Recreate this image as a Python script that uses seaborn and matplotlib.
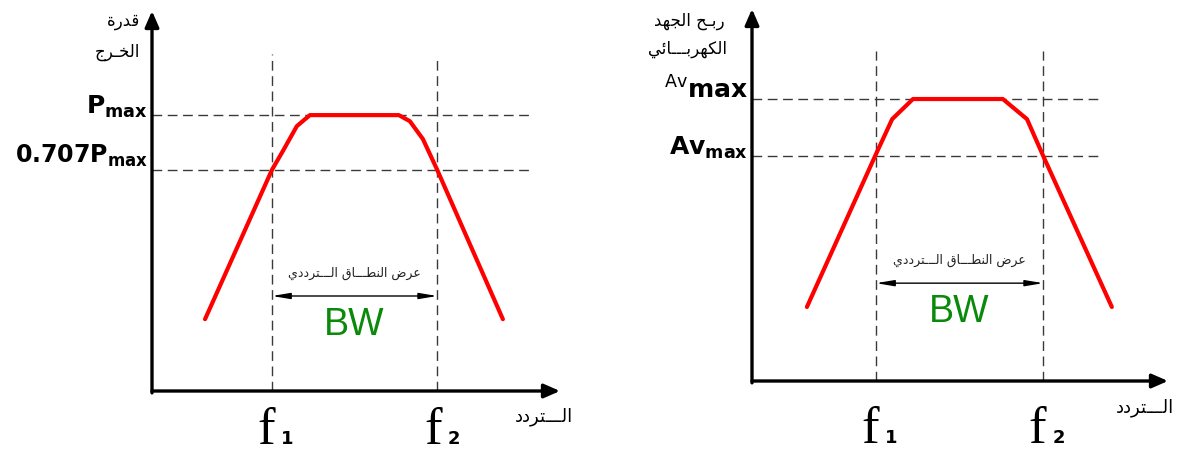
import numpy as np
import pandas as pd
import seaborn as sns
import matplotlib.pyplot as plt

sns.set_theme(style="white")
plt.rcParams['font.family'] = ['DejaVu Sans']
plt.rcParams['mathtext.fontset'] = 'dejavusans'
plt.rcParams['text.color'] = 'black'

# ---- data (diagram units: origin at 0, arrow tips at 10) ----
p_freq = [1.30, 2.94, 3.20, 3.55, 3.87, 6.05, 6.32, 6.64, 6.99, 8.60]
p_power = [1.89, 5.82, 6.30, 6.97, 7.26, 7.26, 7.10, 6.63, 5.82, 1.89]
p_f1, p_f2 = 2.94, 6.99
p_max_level, p_half_level = 7.26, 5.82

a_freq = [1.32, 2.96, 3.37, 3.87, 6.03, 6.61, 7.00, 8.65]
a_gain = [1.99, 6.05, 7.04, 7.58, 7.58, 7.04, 6.05, 1.99]
a_f1, a_f2 = 2.98, 7.00
a_max_level, a_half_level = 7.58, 6.05

x_label = "الـــتردد"
bw_label = "عرض النطـــاق الـــترددي"
p_ylabel = ["قدرة", "الخـرج"]
a_ylabel = ["ربـح الجهد", "الكهربـــائي"]

# ---- tiny arabic shaper (matplotlib has no shaping) ----
FORMS = {
    'ا': ('\uFE8D', '\uFE8E', None, None),
    'ب': ('\uFE8F', '\uFE90', '\uFE91', '\uFE92'),
    'ة': ('\uFE93', '\uFE94', None, None),
    'ت': ('\uFE95', '\uFE96', '\uFE97', '\uFE98'),
    'ج': ('\uFE9D', '\uFE9E', '\uFE9F', '\uFEA0'),
    'ح': ('\uFEA1', '\uFEA2', '\uFEA3', '\uFEA4'),
    'خ': ('\uFEA5', '\uFEA6', '\uFEA7', '\uFEA8'),
    'د': ('\uFEA9', '\uFEAA', None, None),
    'ر': ('\uFEAD', '\uFEAE', None, None),
    'ض': ('\uFEBD', '\uFEBE', '\uFEBF', '\uFEC0'),
    'ط': ('\uFEC1', '\uFEC2', '\uFEC3', '\uFEC4'),
    'ع': ('\uFEC9', '\uFECA', '\uFECB', '\uFECC'),
    'ق': ('\uFED5', '\uFED6', '\uFED7', '\uFED8'),
    'ك': ('\uFED9', '\uFEDA', '\uFEDB', '\uFEDC'),
    'ل': ('\uFEDD', '\uFEDE', '\uFEDF', '\uFEE0'),
    'ن': ('\uFEE5', '\uFEE6', '\uFEE7', '\uFEE8'),
    'ه': ('\uFEE9', '\uFEEA', '\uFEEB', '\uFEEC'),
    'ي': ('\uFEF1', '\uFEF2', '\uFEF3', '\uFEF4'),
    'ئ': ('\uFE89', '\uFE8A', '\uFE8B', '\uFE8C'),
}
TATWEEL = 'ـ'


def joins_next(c):
    return c == TATWEEL or (c in FORMS and FORMS[c][2] is not None)


def joins_prev(c):
    return c == TATWEEL or c in FORMS


def ar(text):
    out = []
    for i, c in enumerate(text):
        if c not in FORMS:
            out.append(c)
            continue
        prev = text[i - 1] if i > 0 else None
        nxt = text[i + 1] if i < len(text) - 1 else None
        left = prev is not None and joins_next(prev)
        right = nxt is not None and joins_next(c) and joins_prev(nxt)
        iso, fin, ini, med = FORMS[c]
        if left and right:
            out.append(med)
        elif left:
            out.append(fin)
        elif right:
            out.append(ini)
        else:
            out.append(iso)
    return ''.join(out)[::-1]


fig = plt.figure(figsize=(11.94, 4.56), dpi=100)
ax1 = fig.add_axes([152 / 1194, 64 / 456, 408 / 1194, 380 / 456])
ax2 = fig.add_axes([752 / 1194, 74 / 456, 416 / 1194, 372 / 456])


def draw_panel(ax, freq, vals, f1, f2, top, half, hl_end, vl_top):
    ax.set_xlim(0, 10)
    ax.set_ylim(0, 10)
    ax.axis('off')
    dash = dict(color='#3a3a3a', lw=1, ls=(0, (7, 4)), clip_on=False)
    ax.plot([0, hl_end], [top, top], **dash)
    ax.plot([0, hl_end], [half, half], **dash)
    ax.plot([f1, f1], [0, vl_top[0]], **dash)
    ax.plot([f2, f2], [0, vl_top[1]], **dash)
    df = pd.DataFrame({"freq": freq, "val": vals})
    sns.lineplot(data=df, x="freq", y="val", sort=False, color="red", lw=3, ax=ax)
    arrow = dict(arrowstyle='-|>,head_length=0.8,head_width=0.35', color='black', lw=2.4,
                 shrinkA=0, shrinkB=0)
    ax.annotate('', xy=(10, 0), xytext=(0, 0), arrowprops=arrow, annotation_clip=False)
    ax.annotate('', xy=(0, 10), xytext=(0, -0.05), arrowprops=arrow, annotation_clip=False)
    ax.set_xlabel('')
    ax.set_ylabel('')


def draw_bw(ax, f1, f2, y_arrow, y_text, y_bw):
    ax.annotate('', xy=(f1, y_arrow), xytext=(f2, y_arrow),
                arrowprops=dict(arrowstyle='<|-|>,head_length=0.9,head_width=0.15', color='black', lw=1,
                                shrinkA=0, shrinkB=0))
    mid = (f1 + f2) / 2
    ax.text(mid, y_text, ar(bw_label), ha='center', va='center', fontsize=9, color='#222222')
    ax.text(mid, y_bw, "BW", ha='center', va='center', fontsize=27, color='#0a8a0a',
            family='Liberation Sans')


def draw_f(ax, f, sub, y):
    ax.text(f, y, "f", ha='center', va='baseline', fontsize=38, family='Liberation Serif',
            clip_on=False)
    ax.text(f + 0.52, y, sub, ha='center', va='baseline', fontsize=13, fontweight='bold',
            clip_on=False)


# ---- left panel: output power ----
draw_panel(ax1, p_freq, p_power, p_f1, p_f2, p_max_level, p_half_level, 9.26, (8.87, 8.74))
draw_bw(ax1, p_f1, p_f2, 2.50, 3.13, 1.76)
draw_f(ax1, p_f1 - 0.15, "1", -1.36)
draw_f(ax1, p_f2 - 0.1, "2", -1.36)
ax1.text(9.6, -0.65, ar(x_label), ha='center', va='center', fontsize=13, clip_on=False)
ax1.text(-0.3, 9.75, ar(p_ylabel[0]), ha='right', va='center', fontsize=12, clip_on=False)
ax1.text(-0.3, 8.95, ar(p_ylabel[1]), ha='right', va='center', fontsize=12, clip_on=False)
ax1.text(-0.1, p_max_level + 0.05, r"$\mathbf{P_{max}}$", ha='right', va='baseline', fontsize=18,
         clip_on=False)
ax1.text(-0.1, p_half_level + 0.2, r"$\mathbf{0.707P_{max}}$", ha='right', va='baseline', fontsize=17,
         clip_on=False)

# ---- right panel: voltage gain ----
draw_panel(ax2, a_freq, a_gain, a_f1, a_f2, a_max_level, a_half_level, 8.37, (8.87, 8.87))
draw_bw(ax2, a_f1, a_f2, 2.63, 3.28, 1.88)
draw_f(ax2, a_f1 - 0.15, "1", -1.64)
draw_f(ax2, a_f2 - 0.15, "2", -1.64)
ax2.text(9.45, -0.68, ar(x_label), ha='center', va='center', fontsize=13, clip_on=False)
ax2.text(-1.5, 9.7, ar(a_ylabel[0]), ha='center', va='center', fontsize=12, clip_on=False)
ax2.text(-1.55, 8.95, ar(a_ylabel[1]), ha='center', va='center', fontsize=12, clip_on=False)
ax2.text(-0.1, a_max_level + 0.05, r"$\mathregular{^{Av}}\mathbf{max}$", ha='right', va='baseline',
         fontsize=18, clip_on=False)
ax2.text(-0.1, a_half_level + 0.05, r"$\mathbf{Av_{max}}$", ha='right', va='baseline', fontsize=18,
         clip_on=False)

fig.savefig("out.png", dpi=100, facecolor='white')
